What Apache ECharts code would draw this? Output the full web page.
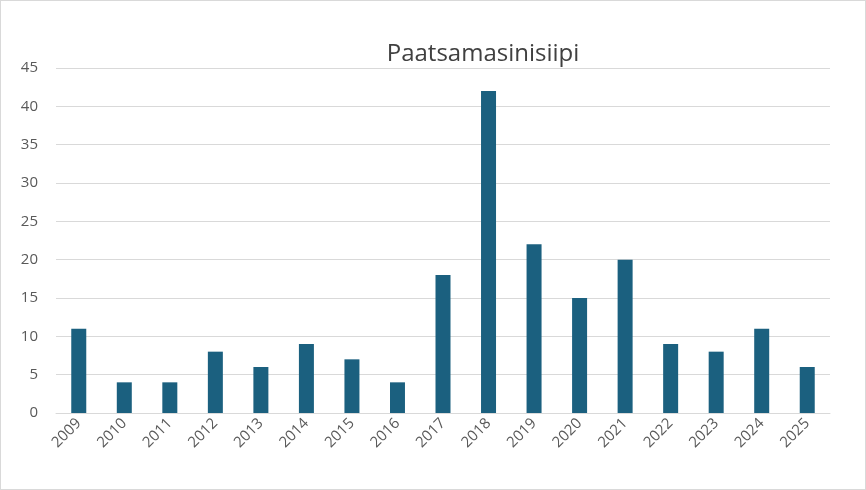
<!DOCTYPE html>
<html><head><meta charset="utf-8">
<script src="https://cdn.jsdelivr.net/npm/echarts@6/dist/echarts.min.js"></script>
<style>html,body{margin:0;padding:0;background:#fff}#c{width:864px;height:488px;border:1px solid #d9d9d9}</style>
</head><body><div id="c"></div>
<script>
const categories=['2009','2010','2011','2012','2013','2014','2015','2016','2017','2018','2019','2020','2021','2022','2023','2024','2025'];
const values=[11,4,4,8,6,9,7,4,18,42,22,15,20,9,8,11,6];
const chart=echarts.init(document.getElementById('c'));
chart.setOption({
  animation:false,
  title:{text:'Paatsamasinisiipi',left:477,top:36,textAlign:'center',textStyle:{fontFamily:'Open Sans',fontSize:24,fontWeight:'normal',color:'#404040'}},
  grid:{left:55,right:35,top:67,bottom:76},
  xAxis:{type:'category',data:categories,axisTick:{show:false},axisLine:{lineStyle:{color:'#d9d9d9'}},
    axisLabel:{rotate:45,color:'#595959',fontSize:15,fontFamily:'Open Sans',margin:8}},
  yAxis:{type:'value',min:0,max:45,interval:5,axisLabel:{color:'#595959',fontSize:15,fontFamily:'Open Sans',margin:18},
    splitLine:{lineStyle:{color:'#d9d9d9'}}},
  series:[{type:'bar',data:values,barWidth:15,itemStyle:{color:'#1b607f'}}]
});
</script></body></html>
